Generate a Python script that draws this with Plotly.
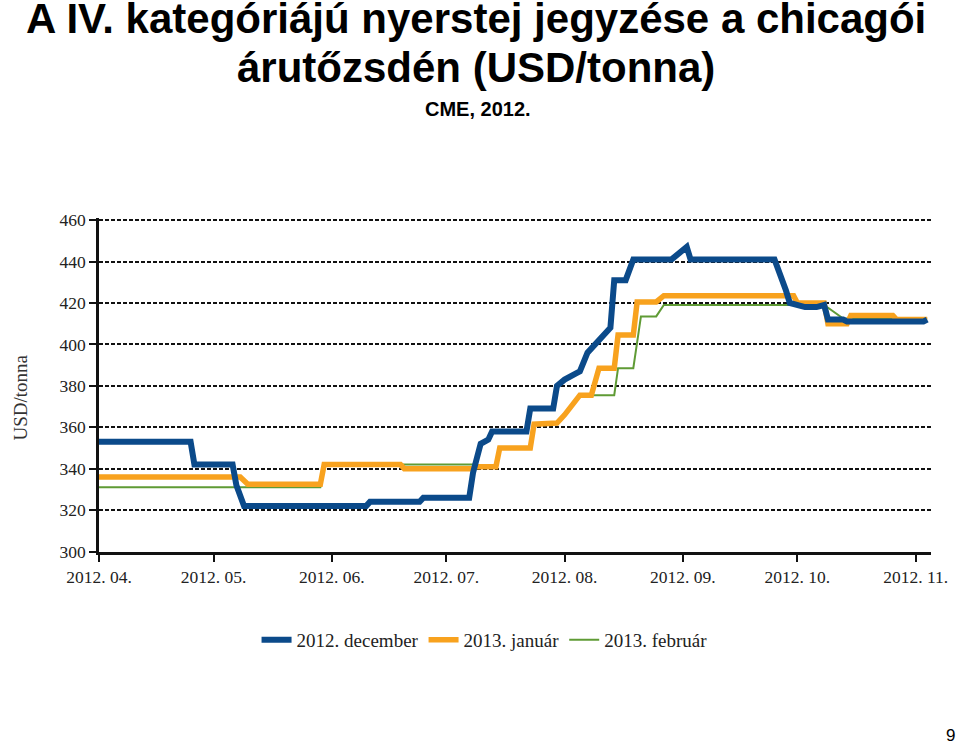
import plotly.graph_objects as go

# ---- data ----
dec_dates = ["2012-04-01", "2012-04-25", "2012-04-26", "2012-05-06", "2012-05-07", "2012-05-09",
             "2012-06-10", "2012-06-11", "2012-06-24", "2012-06-25", "2012-07-07", "2012-07-08",
             "2012-07-10", "2012-07-12", "2012-07-13", "2012-07-22", "2012-07-23", "2012-07-29",
             "2012-07-30", "2012-08-01", "2012-08-04", "2012-08-05", "2012-08-07", "2012-08-08",
             "2012-08-11", "2012-08-12", "2012-08-13", "2012-08-14", "2012-08-17", "2012-08-19",
             "2012-08-29", "2012-09-02", "2012-09-03", "2012-09-25", "2012-09-27", "2012-09-28",
             "2012-09-29", "2012-10-02", "2012-10-03", "2012-10-06", "2012-10-08", "2012-10-09",
             "2012-10-13", "2012-10-14", "2012-11-03", "2012-11-04"]
dec_values = [353, 353, 342, 342, 332, 322,
              322, 324, 324, 326, 326, 338,
              352, 354, 358, 358, 369, 369,
              380, 383, 386, 387, 396, 398,
              405, 407, 408, 431, 431, 441,
              441, 447, 441, 441, 432, 426,
              420, 419, 418, 418, 419, 412,
              412, 411, 411, 412]

jan_dates = ["2012-04-01", "2012-05-08", "2012-05-10", "2012-05-29", "2012-05-30", "2012-06-19",
             "2012-06-20", "2012-07-08", "2012-07-09", "2012-07-14", "2012-07-15", "2012-07-23",
             "2012-07-24", "2012-07-30", "2012-08-01", "2012-08-05", "2012-08-08", "2012-08-10",
             "2012-08-14", "2012-08-15", "2012-08-19", "2012-08-20", "2012-08-25", "2012-08-27",
             "2012-09-30", "2012-10-01", "2012-10-08", "2012-10-09", "2012-10-14", "2012-10-15",
             "2012-10-26", "2012-10-27", "2012-11-04"]
jan_values = [336, 336, 332.5, 332.5, 342, 342,
              340, 340, 341, 341, 350, 350,
              361.5, 362, 366, 375.5, 375.5, 388.5,
              388.5, 404.5, 404.5, 420.5, 420.5, 423.5,
              423.5, 420, 420, 410, 410, 414,
              414, 412, 412]

feb_dates = ["2012-04-01", "2012-05-29", "2012-05-30", "2012-07-08", "2012-07-09", "2012-07-14",
             "2012-07-15", "2012-07-23", "2012-07-24", "2012-07-30", "2012-08-01", "2012-08-05",
             "2012-08-14", "2012-08-15", "2012-08-19", "2012-08-21", "2012-08-25", "2012-08-27",
             "2012-10-08", "2012-10-13", "2012-11-04"]
feb_values = [331, 331, 342, 342, 341, 341,
              350, 350, 361.5, 362, 366, 375.5,
              375.5, 388.5, 388.5, 413.5, 413.5, 419,
              419, 412.5, 412.5]

series_names = ["2012. december", "2013. január", "2013. február"]
y_ticks = [300, 320, 340, 360, 380, 400, 420, 440, 460]

title_line1 = "A IV. kategóriájú nyerstej jegyzése a chicagói"
title_line2 = "árutőzsdén (USD/tonna)"
subtitle = "CME, 2012."
y_title = "USD/tonna"
page_no = "9"

BLUE = "#0b4a8a"
ORANGE = "#f8a21e"
GREEN = "#5f9b35"

fig = go.Figure()
fig.add_trace(go.Scatter(x=feb_dates, y=feb_values, mode="lines", name=series_names[2],
                         line=dict(color=GREEN, width=2)))
fig.add_trace(go.Scatter(x=jan_dates, y=jan_values, mode="lines", name=series_names[1],
                         line=dict(color=ORANGE, width=5.5)))
fig.add_trace(go.Scatter(x=dec_dates, y=dec_values, mode="lines", name=series_names[0],
                         line=dict(color=BLUE, width=6)))

serif = "Liberation Serif, Times New Roman, serif"
sans = "Liberation Sans, Arial, sans-serif"

# plot area: 460 -> y=220px, 300 -> y=552px
fig.update_layout(
    width=960, height=743,
    margin=dict(l=99, r=27, t=218, b=191),
    paper_bgcolor="white", plot_bgcolor="white",
    showlegend=True,
    legend=dict(orientation="h", traceorder="reversed", x=0.4634, xanchor="center",
                y=-0.2635, yanchor="middle", font=dict(family=serif, size=19, color="#222"),
                bgcolor="rgba(0,0,0,0)"),
    xaxis=dict(type="date", range=["2012-04-01", "2012-11-05"], tick0="2012-04-01", dtick="M1",
               tickformat="%Y. %m.", ticks="outside", ticklen=7, tickwidth=2, tickcolor="#111",
               showline=True, linecolor="#111", linewidth=2.5, showgrid=False, zeroline=False,
               tickfont=dict(family=serif, size=17.5, color="#222")),
    yaxis=dict(range=[299.8, 461], tickvals=y_ticks, ticks="outside", ticklen=7, tickwidth=2,
               tickcolor="#111", showline=True, linecolor="#111", linewidth=2.5,
               showgrid=True, gridcolor="#111", gridwidth=2, griddash="4px,2px",
               zeroline=False, tickfont=dict(family=serif, size=17.5, color="#222")),
    annotations=[
        dict(text=title_line1, xref="paper", yref="paper", x=0.4526, y=1.597,
             xanchor="center", yanchor="middle", showarrow=False,
             font=dict(family=sans, size=42, color="black", weight="bold")),
        dict(text=title_line2, xref="paper", yref="paper", x=0.4526, y=1.452,
             xanchor="center", yanchor="middle", showarrow=False,
             font=dict(family=sans, size=42, color="black", weight="bold")),
        dict(text=subtitle, xref="paper", yref="paper", x=0.4550, y=1.326,
             xanchor="center", yanchor="middle", showarrow=False,
             font=dict(family=sans, size=20, color="black", weight="bold")),
        dict(text=y_title, xref="paper", yref="paper", x=-0.0947, y=0.463,
             xanchor="center", yanchor="middle", showarrow=False, textangle=-90,
             font=dict(family=serif, size=19, color="#333")),
        dict(text=page_no, xref="paper", yref="paper", x=1.024, y=-0.548,
             xanchor="center", yanchor="middle", showarrow=False,
             font=dict(family=sans, size=17, color="black")),
    ],
)

fig.write_html("out.html", config={"displayModeBar": False},
               post_script="document.body.style.margin='0px';document.body.style.overflow='hidden';")
